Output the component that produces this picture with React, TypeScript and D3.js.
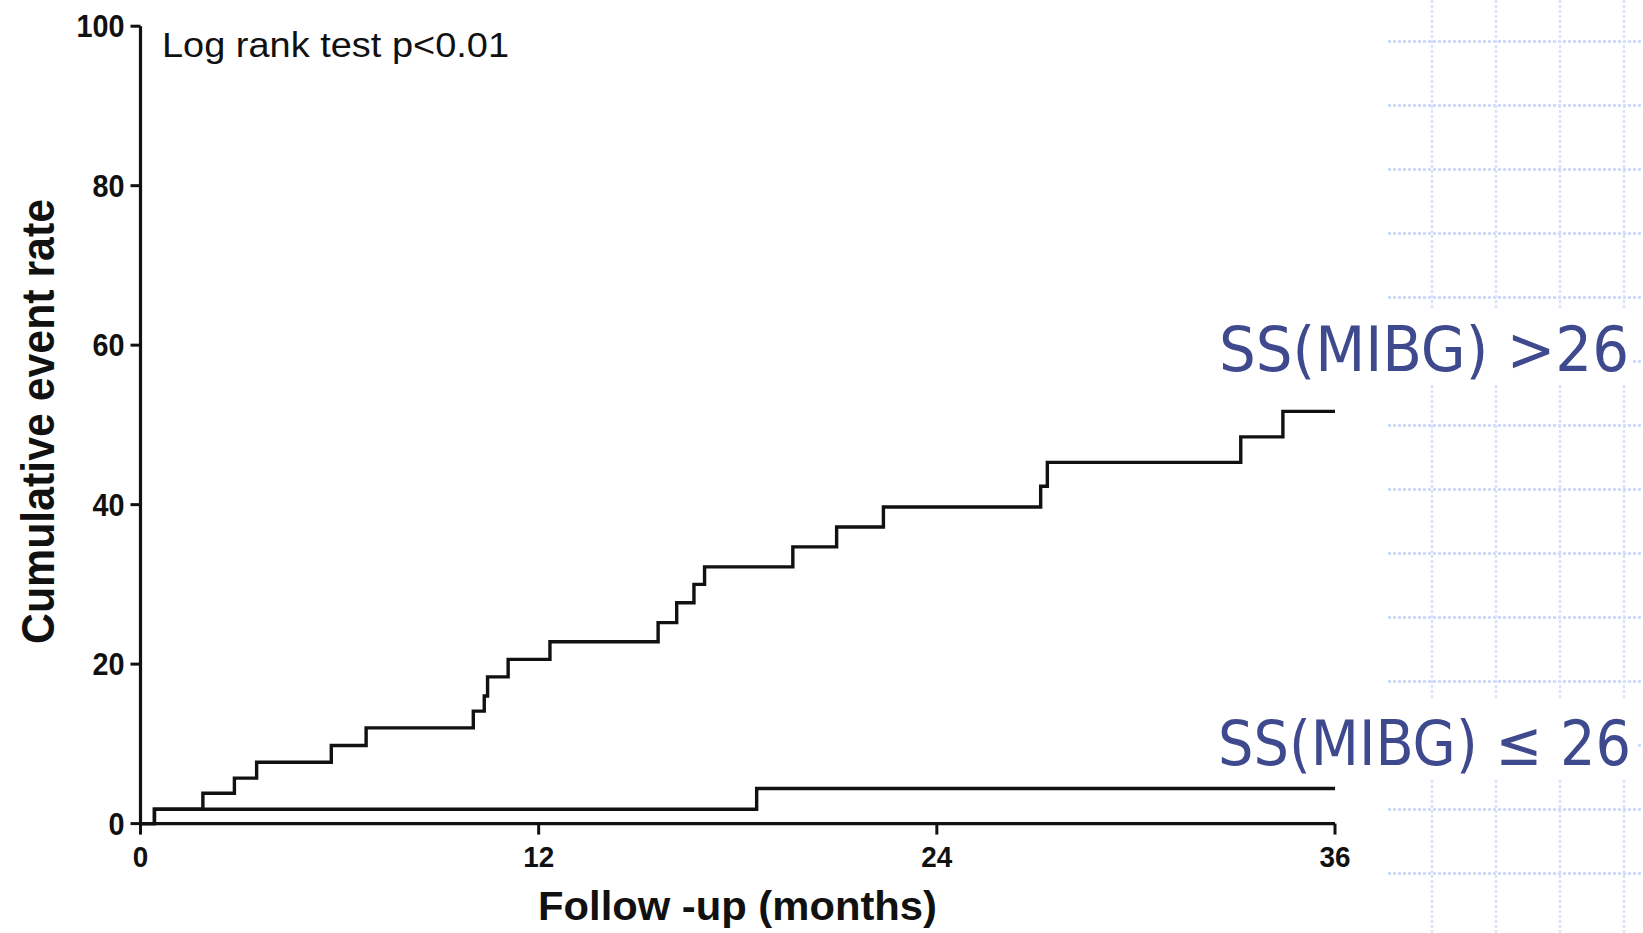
import React from "react";
import * as d3 from "d3";

// Kaplan-Meier style cumulative event rate curves (months, %)
const highTimes = [0, 0.42, 1.88, 2.83, 3.5, 5.75, 6.8, 10.03, 10.36, 10.46, 11.08, 12.34, 15.6, 16.16, 16.68, 17.0, 19.66, 20.98, 22.39, 27.13, 27.33, 33.16, 34.43, 36];
const highValues = [0, 1.8, 3.8, 5.7, 7.7, 9.8, 12.0, 14.1, 16.0, 18.4, 20.6, 22.8, 25.2, 27.7, 30.0, 32.2, 34.7, 37.2, 39.7, 42.3, 45.3, 48.5, 51.7, 51.7];
const lowTimes = [0, 0.42, 18.57, 36];
const lowValues = [0, 1.8, 4.4, 4.4];

const xTicks = [0, 12, 24, 36];
const yTicks = [0, 20, 40, 60, 80, 100];

const xTitle = "Follow -up (months)";
const yTitle = "Cumulative event rate";
const testLabel = "Log rank test p<0.01";
const highLabel = "SS(MIBG) >26";
const lowLabel = "SS(MIBG) \u2264 26";

const W = 1643;
const H = 933;

export default function App() {
  const x = d3.scaleLinear().domain([0, 36]).range([140.5, 1335]);
  const y = d3.scaleLinear().domain([0, 100]).range([823.6, 26.2]);

  const line = d3
    .line<[number, number]>()
    .x((d) => x(d[0]))
    .y((d) => y(d[1]))
    .curve(d3.curveStepAfter);

  const highPts: [number, number][] = highTimes.map((t, i) => [t, highValues[i]]);
  const lowPts: [number, number][] = lowTimes.map((t, i) => [t, lowValues[i]]);

  const gridY = d3.range(14).map((k) => 41.5 + 64 * k);
  const gridX = d3.range(4).map((k) => 1432 + 64 * k);

  const font = "'Liberation Sans', Arial, Helvetica, sans-serif";
  const ink = "#111";

  return (
    <svg
      width={W}
      height={H}
      style={{ position: "absolute", left: 0, top: 0, background: "#fff" }}
    >
      <rect x={0} y={0} width={W} height={H} fill="#fff" />
      {/* slide background grid */}
      {gridY.map((gy, i) => (
        <line key={"gy" + i} x1={1388} x2={W} y1={gy} y2={gy} stroke="#c6d5fb" strokeWidth={2.5} strokeDasharray="3,2" />
      ))}
      {gridX.map((gx, i) => (
        <line key={"gx" + i} x1={gx} x2={gx} y1={0} y2={H} stroke="#dae1f8" strokeWidth={2.5} strokeDasharray="3,2" />
      ))}
      {/* chart white area */}
      <rect x={0} y={0} width={1388} height={H} fill="#fff" />
      {/* label backgrounds */}
      <rect x={1160} y={308} width={473} height={76} fill="#fff" />
      <rect x={1160} y={699} width={477} height={81} fill="#fff" />

      {/* axes */}
      <line x1={x(0)} x2={x(0)} y1={y(100)} y2={y(0)} stroke={ink} strokeWidth={3.2} />
      <line x1={x(0)} x2={x(36)} y1={y(0)} y2={y(0)} stroke={ink} strokeWidth={3.2} />
      {yTicks.map((t) => (
        <g key={"yt" + t}>
          <line x1={x(0) - 10} x2={x(0)} y1={y(t)} y2={y(t)} stroke={ink} strokeWidth={3} />
          <text
            x={x(0) - 16}
            y={y(t) + 11}
            textAnchor="end"
            fontFamily={font}
            fontWeight="bold"
            fontSize={31}
            textLength={String(t).length * 16}
            lengthAdjust="spacingAndGlyphs"
            fill={ink}
          >
            {t}
          </text>
        </g>
      ))}
      {xTicks.map((t) => (
        <g key={"xt" + t}>
          <line x1={x(t)} x2={x(t)} y1={y(0)} y2={y(0) + 11} stroke={ink} strokeWidth={3} />
          <text
            x={x(t)}
            y={867}
            textAnchor="middle"
            fontFamily={font}
            fontWeight="bold"
            fontSize={30}
            textLength={String(t).length * 15.5}
            lengthAdjust="spacingAndGlyphs"
            fill={ink}
          >
            {t}
          </text>
        </g>
      ))}

      {/* curves */}
      <path d={line(lowPts) || ""} fill="none" stroke={ink} strokeWidth={3.4} />
      <path d={line(highPts) || ""} fill="none" stroke={ink} strokeWidth={3.4} />

      {/* titles */}
      <text
        x={538}
        y={920}
        fontFamily={font}
        fontWeight="bold"
        fontSize={41}
        textLength={399}
        lengthAdjust="spacingAndGlyphs"
        fill={ink}
      >
        {xTitle}
      </text>
      <text
        transform="translate(54,644) rotate(-90)"
        x={0}
        y={0}
        fontFamily={font}
        fontWeight="bold"
        fontSize={46}
        textLength={445}
        lengthAdjust="spacingAndGlyphs"
        fill={ink}
      >
        {yTitle}
      </text>
      <text
        x={162}
        y={57}
        fontFamily={font}
        fontSize={35}
        textLength={347}
        lengthAdjust="spacingAndGlyphs"
        fill={ink}
      >
        {testLabel}
      </text>

      {/* group labels */}
      <text
        x={1219}
        y={371}
        fontFamily="'DejaVu Sans Condensed', 'DejaVu Sans', Verdana, sans-serif"
        fontSize={62}
        textLength={410}
        lengthAdjust="spacingAndGlyphs"
        fill="#3f4a8e"
      >
        {highLabel}
      </text>
      <text
        x={1218}
        y={765}
        fontFamily="'DejaVu Sans Condensed', 'DejaVu Sans', Verdana, sans-serif"
        fontSize={62}
        textLength={413}
        lengthAdjust="spacingAndGlyphs"
        fill="#3f4a8e"
      >
        {lowLabel}
      </text>
    </svg>
  );
}
